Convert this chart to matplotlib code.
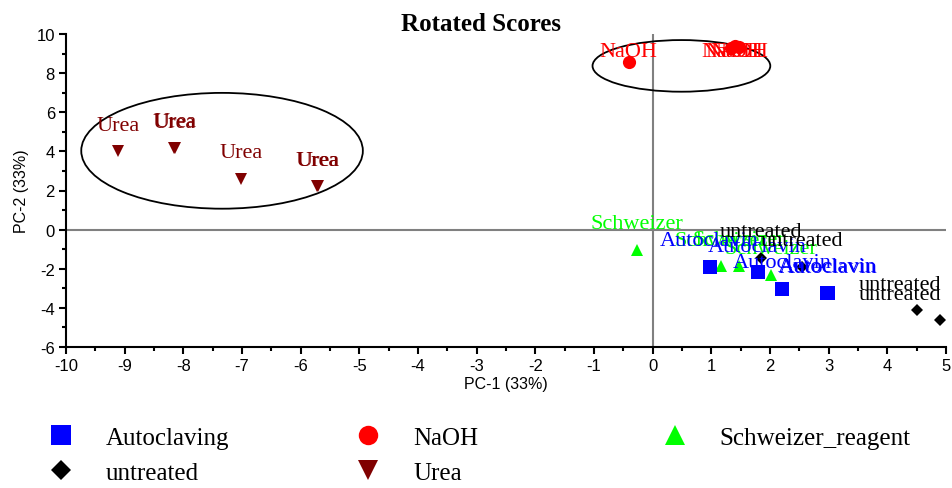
import matplotlib
matplotlib.use('Agg')
import matplotlib.pyplot as plt
from matplotlib.patches import Ellipse
from matplotlib.lines import Line2D

plt.rcParams['axes.unicode_minus'] = False

# ---------------- data ----------------
auto_x = [0.97, 1.79, 2.20, 2.97, 2.99]
auto_y = [-1.89, -2.19, -3.02, -3.22, -3.24]
naoh_x = [-0.41, 1.33, 1.40, 1.48]
naoh_y = [8.57, 9.30, 9.38, 9.34]
sch_x = [-0.27, 1.16, 1.47, 2.01]
sch_y = [-1.02, -1.87, -1.84, -2.30]
unt_x = [1.84, 2.54, 4.50, 4.89]
unt_y = [-1.43, -1.89, -4.13, -4.64]
urea_x = [-9.11, -8.16, -8.14, -7.02, -5.72, -5.70]
urea_y = [4.00, 4.17, 4.19, 2.59, 2.21, 2.23]

# ellipses: (center x, center y, width, height)
urea_ell = (-7.34, 4.03, 4.80, 5.92)
naoh_ell = (0.49, 8.37, 3.03, 2.64)

x_ticks = list(range(-10, 6))
y_ticks = list(range(-6, 11, 2))

series = [
    # name, label text, x, y, marker, color, size
    ("Urea", "Urea", urea_x, urea_y, "v", "#800000", 9),
    ("NaOH", "NaOH", naoh_x, naoh_y, "o", "#ff0000", 9.5),
    ("Schweizer_reagent", "Schweizer", sch_x, sch_y, "^", "#00ff00", 9),
    ("Autoclaving", "Autoclavin", auto_x, auto_y, "s", "#0000ff", 9.5),
    ("untreated", "untreated", unt_x, unt_y, "D", "#000000", 6.5),
]

serif = ["Liberation Serif", "DejaVu Serif"]
sans = ["Liberation Sans", "DejaVu Sans"]

fig = plt.figure(figsize=(9.52, 4.89), dpi=100)
ax = fig.add_axes([66 / 952, 1 - 348 / 489, 880 / 952, 313 / 489])

ax.set_xlim(-10, 5)
ax.set_ylim(-6, 10)
ax.axhline(0, color="#808080", lw=1.5, zorder=1)
ax.axvline(0, color="#808080", lw=1.5, zorder=1)

for cx, cy, w, h in (urea_ell, naoh_ell):
    ax.add_patch(Ellipse((cx, cy), w, h, fill=False, edgecolor="black", lw=1.3, zorder=2))

texts = []
for name, lab, xs, ys, mk, col, ms in series:
    ax.plot(xs, ys, linestyle="none", marker=mk, color=col, markersize=ms,
            markeredgewidth=0, zorder=4)
    for x, y in zip(xs, ys):
        t = ax.annotate(lab, (x, y), xytext=(0, 26), textcoords="offset pixels",
                        ha="center", va="center", color=col, fontsize=16,
                        family=serif, zorder=5, annotation_clip=False)
        texts.append(t)

for s in ["top", "right"]:
    ax.spines[s].set_visible(False)
for s in ["left", "bottom"]:
    ax.spines[s].set_linewidth(1.5)

ax.set_xticks(x_ticks)
ax.set_yticks(y_ticks)
ax.set_xticks([v + 0.5 for v in x_ticks[:-1]], minor=True)
ax.set_yticks([v + 1 for v in y_ticks[:-1]], minor=True)
ax.tick_params(which="major", direction="out", length=5, width=1.5, labelsize=12, pad=3)
ax.tick_params(which="minor", direction="out", length=3, width=1.5)
for lbl in ax.get_xticklabels() + ax.get_yticklabels():
    lbl.set_family(sans)

ax.set_xlabel("PC-1 (33%)", fontsize=11.5, family=sans, labelpad=2)
ax.set_ylabel("PC-2 (33%)", fontsize=11.5, family=sans, labelpad=5)

fig.suptitle("Rotated Scores", x=0.505, y=0.973, fontsize=18, fontweight="bold", family=serif)

# keep labels inside the plot area
fig.canvas.draw()
renderer = fig.canvas.get_renderer()
axbb = ax.get_window_extent(renderer)
for t in texts:
    bb = t.get_window_extent(renderer)
    dx = dy = 0
    if bb.x1 > axbb.x1 - 5:
        dx = axbb.x1 - 5 - bb.x1
    if bb.y1 > axbb.y1 - 8:
        dy = axbb.y1 - 8 - bb.y1
    if dx or dy:
        ox, oy = t.xyann
        t.xyann = (ox + dx, oy + dy)

# legend in three columns
lookup = {s[0]: s for s in series}
columns = [["Autoclaving", "untreated"], ["NaOH", "Urea"], ["Schweizer_reagent"]]
col_x = [0.031, 0.354, 0.676]
leg_sizes = {"s": 14, "o": 14, "^": 15, "D": 10, "v": 15}
for names, xpos in zip(columns, col_x):
    handles = []
    for n in names:
        mk, col = lookup[n][4], lookup[n][5]
        handles.append(Line2D([], [], linestyle="none", marker=mk, color=col,
                              markersize=leg_sizes[mk], markeredgewidth=0))
    fig.legend(handles, names, loc="upper left", bbox_to_anchor=(xpos, 0.152),
               frameon=False, prop={"family": serif, "size": 18},
               handletextpad=1.05, labelspacing=0.5, borderpad=0,
               handlelength=1.5)

fig.savefig("out.png", dpi=100)
